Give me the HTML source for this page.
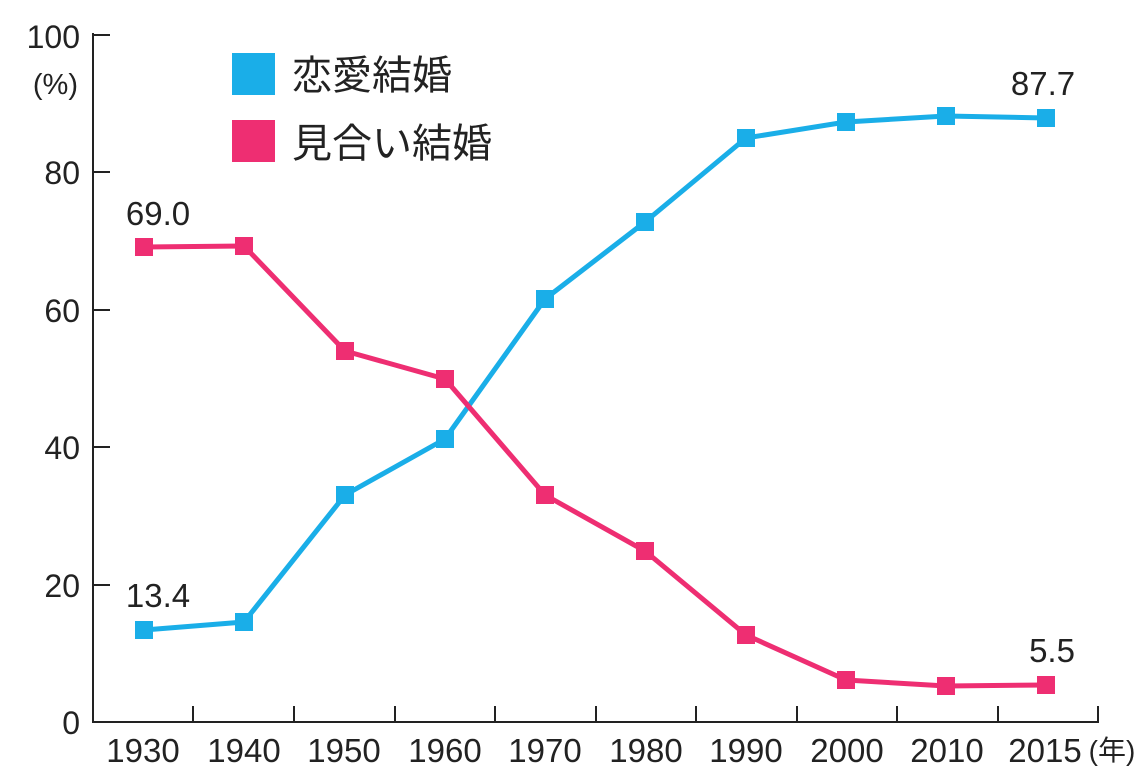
<!DOCTYPE html>
<html><head><meta charset="utf-8"><style>
body{margin:0;background:#fff;}
svg text{font-family:"Liberation Sans","Noto Sans CJK JP",sans-serif;fill:#222;}
</style></head><body>
<svg width="1146" height="774" viewBox="0 0 1146 774" xmlns="http://www.w3.org/2000/svg">
<g stroke="#222" stroke-width="2" fill="none">
<line x1="93" y1="33" x2="93" y2="723"/>
<line x1="92" y1="722" x2="1099" y2="722"/>
<line x1="93" y1="35" x2="110" y2="35"/>
<line x1="93" y1="172" x2="110" y2="172"/>
<line x1="93" y1="310" x2="110" y2="310"/>
<line x1="93" y1="447" x2="110" y2="447"/>
<line x1="93" y1="585" x2="110" y2="585"/>
<line x1="193" y1="706" x2="193" y2="722"/>
<line x1="294" y1="706" x2="294" y2="722"/>
<line x1="395" y1="706" x2="395" y2="722"/>
<line x1="495" y1="706" x2="495" y2="722"/>
<line x1="596" y1="706" x2="596" y2="722"/>
<line x1="696" y1="706" x2="696" y2="722"/>
<line x1="797" y1="706" x2="797" y2="722"/>
<line x1="897" y1="706" x2="897" y2="722"/>
<line x1="998" y1="706" x2="998" y2="722"/>
<line x1="1098" y1="706" x2="1098" y2="722"/>
</g>
<g font-size="32" text-anchor="end">
<text x="80" y="48">100</text>
<text x="78" y="94" font-size="29">(%)</text>
<text x="80" y="184">80</text>
<text x="80" y="322">60</text>
<text x="80" y="459">40</text>
<text x="80" y="597">20</text>
<text x="80" y="734">0</text>
</g>
<g font-size="33" text-anchor="middle">
<text x="143" y="762">1930</text><text x="244" y="762">1940</text><text x="344" y="762">1950</text>
<text x="445" y="762">1960</text><text x="545" y="762">1970</text><text x="646" y="762">1980</text>
<text x="746" y="762">1990</text><text x="847" y="762">2000</text><text x="947" y="762">2010</text>
<text x="1045" y="762">2015</text>
</g>
<text x="1112" y="760" font-size="28" text-anchor="middle">(年)</text>
<polyline fill="none" stroke="#1aaee8" stroke-width="5" stroke-linejoin="round" points="144,630 244,622 345,495 445,439 545,299 645,222 746,138 846,122 946,116 1046,118"/>
<polyline fill="none" stroke="#ee2e72" stroke-width="5" stroke-linejoin="round" points="144,247 244,246 345,351 445,379 545,495 645,551 746,635 846,680 946,686 1046,685"/>
<g fill="#1aaee8">
<rect x="135" y="621" width="18" height="18"/><rect x="235" y="613" width="18" height="18"/><rect x="336" y="486" width="18" height="18"/><rect x="436" y="430" width="18" height="18"/><rect x="536" y="290" width="18" height="18"/><rect x="636" y="213" width="18" height="18"/><rect x="737" y="129" width="18" height="18"/><rect x="837" y="113" width="18" height="18"/><rect x="937" y="107" width="18" height="18"/><rect x="1037" y="109" width="18" height="18"/>
</g>
<g fill="#ee2e72">
<rect x="135" y="238" width="18" height="18"/><rect x="235" y="237" width="18" height="18"/><rect x="336" y="342" width="18" height="18"/><rect x="436" y="370" width="18" height="18"/><rect x="536" y="486" width="18" height="18"/><rect x="636" y="542" width="18" height="18"/><rect x="737" y="626" width="18" height="18"/><rect x="837" y="671" width="18" height="18"/><rect x="937" y="677" width="18" height="18"/><rect x="1037" y="676" width="18" height="18"/>
</g>
<g font-size="33" text-anchor="middle">
<text x="158" y="225">69.0</text>
<text x="158" y="607">13.4</text>
<text x="1043" y="95">87.7</text>
<text x="1052" y="662">5.5</text>
</g>
<rect x="232" y="53" width="43" height="42" fill="#1aaee8"/>
<rect x="232" y="120" width="43" height="42" fill="#ee2e72"/>
<text x="292" y="89" font-size="40">恋愛結婚</text>
<text x="292" y="157" font-size="40">見合い結婚</text>
</svg>
</body></html>
